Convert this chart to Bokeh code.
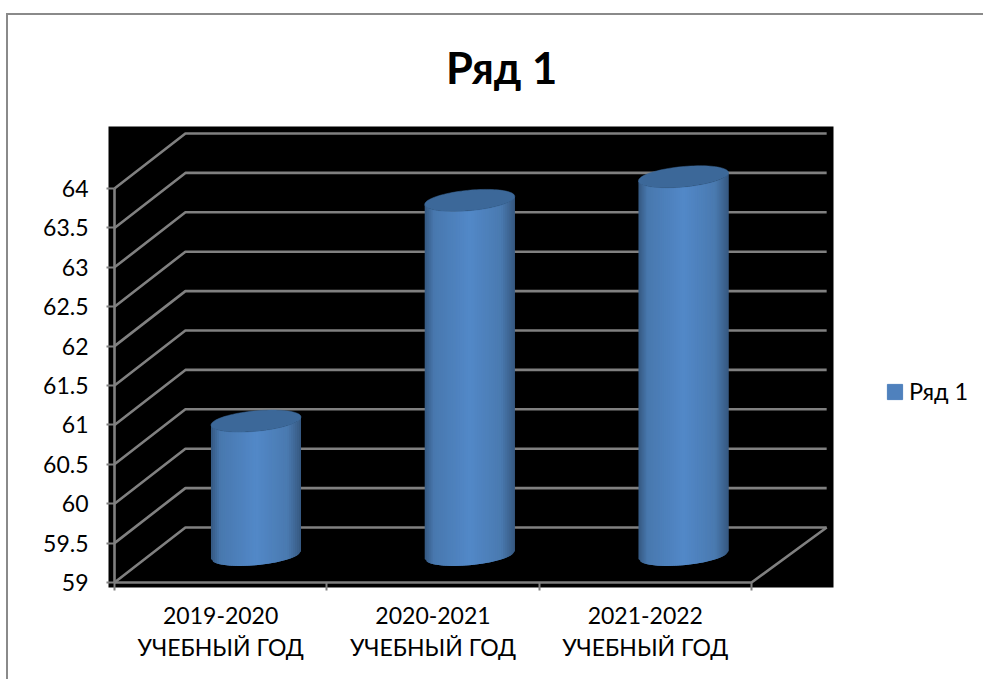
import numpy as np
from bokeh.embed import file_html
from bokeh.resources import INLINE
from bokeh.plotting import figure
from bokeh.models import (FixedTicker, InlineStyleSheet, Legend, LegendItem, LinearAxis, Range1d)

# ---- data ----
title_text = "Ряд 1"
series_name = "Ряд 1"
categories = ["2019-2020\nУЧЕБНЫЙ ГОД", "2020-2021\nУЧЕБНЫЙ ГОД", "2021-2022\nУЧЕБНЫЙ ГОД"]
values = [60.7, 63.5, 63.8]
y_ticks = [59, 59.5, 60, 60.5, 61, 61.5, 62, 62.5, 63, 63.5, 64]
y_labels = ["59", "59.5", "60", "60.5", "61", "61.5", "62", "62.5", "63", "63.5", "64"]

FONT = "Lato"
GRID = "#808080"
DEPTH_X = 0.334   # 3-D depth, category units
DEPTH_Y = 0.698   # 3-D depth, value units
BACK_WIDTH = 3.02  # back wall is slightly wider than the front
BASE = 59.35
RX = 0.212
RY = 0.13
TILT = 0.051

# Chart-area border: top and left only, it runs off the page at right and bottom
border_css = InlineStyleSheet(css=""":host::before {
  content: ""; position: absolute; left: 6px; top: 13px; right: 0; bottom: 0;
  border-left: 2px solid #8a8a8a; border-top: 2px solid #8a8a8a;
  pointer-events: none; z-index: 10;
}""")

p = figure(width=983, height=679, output_backend="svg", toolbar_location=None,
           x_range=Range1d(-0.02826, 3.3862), y_range=Range1d(58.9365, 64.787),
           x_axis_type=None, y_axis_type=None, stylesheets=[border_css],
           min_border_left=108, min_border_right=150, min_border_top=126, min_border_bottom=92,
           background_fill_color="#000000", border_fill_color="#ffffff", outline_line_color=None)
p.frame_width = 725
p.frame_height = 461
p.grid.visible = False

# Title
p.title.text = title_text
p.title.text_font = FONT
p.title.text_font_style = "bold"
p.title.text_font_size = "43.5px"
p.title.text_color = "#000000"
p.title.align = "left"
p.title.offset = 337.5
p.title.standoff = 67

# Axes
yaxis = LinearAxis(ticker=FixedTicker(ticks=y_ticks),
                   major_label_overrides={t: l for t, l in zip(y_ticks, y_labels)},
                   axis_line_color=None, major_tick_line_color=GRID, major_tick_line_width=2,
                   major_tick_in=6, major_tick_out=2, minor_tick_line_color=None,
                   major_label_standoff=18, major_label_text_font=FONT,
                   major_label_text_font_size="23px", major_label_text_color="#000000")
p.add_layout(yaxis, "left")

x_pos = [i + 0.5 for i in range(len(categories))]
xaxis = LinearAxis(ticker=FixedTicker(ticks=x_pos, minor_ticks=list(range(len(categories) + 1))),
                   major_label_overrides={t: l for t, l in zip(x_pos, categories)},
                   axis_line_color=None, major_tick_line_color=None,
                   major_tick_in=0, major_tick_out=0,
                   minor_tick_line_color=GRID, minor_tick_line_width=2, minor_tick_in=5, minor_tick_out=3,
                   major_label_standoff=10, major_label_text_font=FONT,
                   major_label_text_font_size="23px", major_label_text_color="#000000",
                   major_label_text_line_height=1.15)
p.add_layout(xaxis, "below")

# Walls and floor
n = len(categories)
back_end = DEPTH_X + BACK_WIDTH
for t in y_ticks:
    p.line([0, DEPTH_X, back_end], [t, t + DEPTH_Y, t + DEPTH_Y], line_color=GRID, line_width=2.6)
p.line([0, 0], [y_ticks[0], y_ticks[-1]], line_color=GRID, line_width=2.6)
p.line([0, n, back_end], [y_ticks[0], y_ticks[0], y_ticks[0] + DEPTH_Y], line_color=GRID, line_width=2.6)

# Cylinders
SHADE_U = [-1.0, -0.8, 0.0, 0.7, 1.0]
SHADE_R = [52, 72, 82, 74, 54]
SHADE_G = [88, 120, 136, 122, 88]
SHADE_B = [128, 174, 200, 176, 128]

def shade(u):
    rgb = [round(float(np.interp(u, SHADE_U, c))) for c in (SHADE_R, SHADE_G, SHADE_B)]
    return "#%02x%02x%02x" % tuple(rgb)

STRIPS = 46
centers = [(i + 0.5) * BACK_WIDTH / n + DEPTH_X / 2 - 0.004 for i in range(n)]

# Plain bars behind the cylinder shading; they carry the legend's swatch
swatch = p.vbar(x=centers, top=values, bottom=BASE + 0.1, width=2 * RX * 0.9,
                fill_color="#4f81bd", line_color="#4f81bd")

for cx, v in zip(centers, values):
    top = v + DEPTH_Y / 2
    edges = np.linspace(-1, 1, STRIPS + 1)
    xs, ys, cols = [], [], []
    for k in range(STRIPS):
        u0, u1 = edges[k], edges[min(k + 2, STRIPS)]   # each strip runs under the next one
        arc0, arc1 = RY * np.sqrt(1 - u0 ** 2), RY * np.sqrt(1 - u1 ** 2)
        xs.append([cx + RX * u0, cx + RX * u1, cx + RX * u1, cx + RX * u0])
        ys.append([BASE + TILT * u0 - arc0, BASE + TILT * u1 - arc1,
                   top + TILT * u1 - arc1, top + TILT * u0 - arc0])
        cols.append(shade((edges[k] + edges[k + 1]) / 2))
    p.patches(xs, ys, fill_color=cols, line_color=None)
    th = np.linspace(0, 2 * np.pi, 90)
    p.patch(cx + RX * np.cos(th), top + TILT * np.cos(th) + RY * np.sin(th),
            fill_color="#3c6899", line_color="#3c6899", line_width=0.5)

# Legend
legend = Legend(items=[LegendItem(label=series_name, renderers=[swatch])],
                location=(52, 182), margin=0, padding=0, border_line_color=None,
                background_fill_alpha=0, glyph_width=19, glyph_height=19, label_standoff=5,
                label_text_font=FONT, label_text_font_size="23.5px", label_text_color="#000000")
p.add_layout(legend, "right")

open("out.html", "w").write(file_html(p, INLINE))
